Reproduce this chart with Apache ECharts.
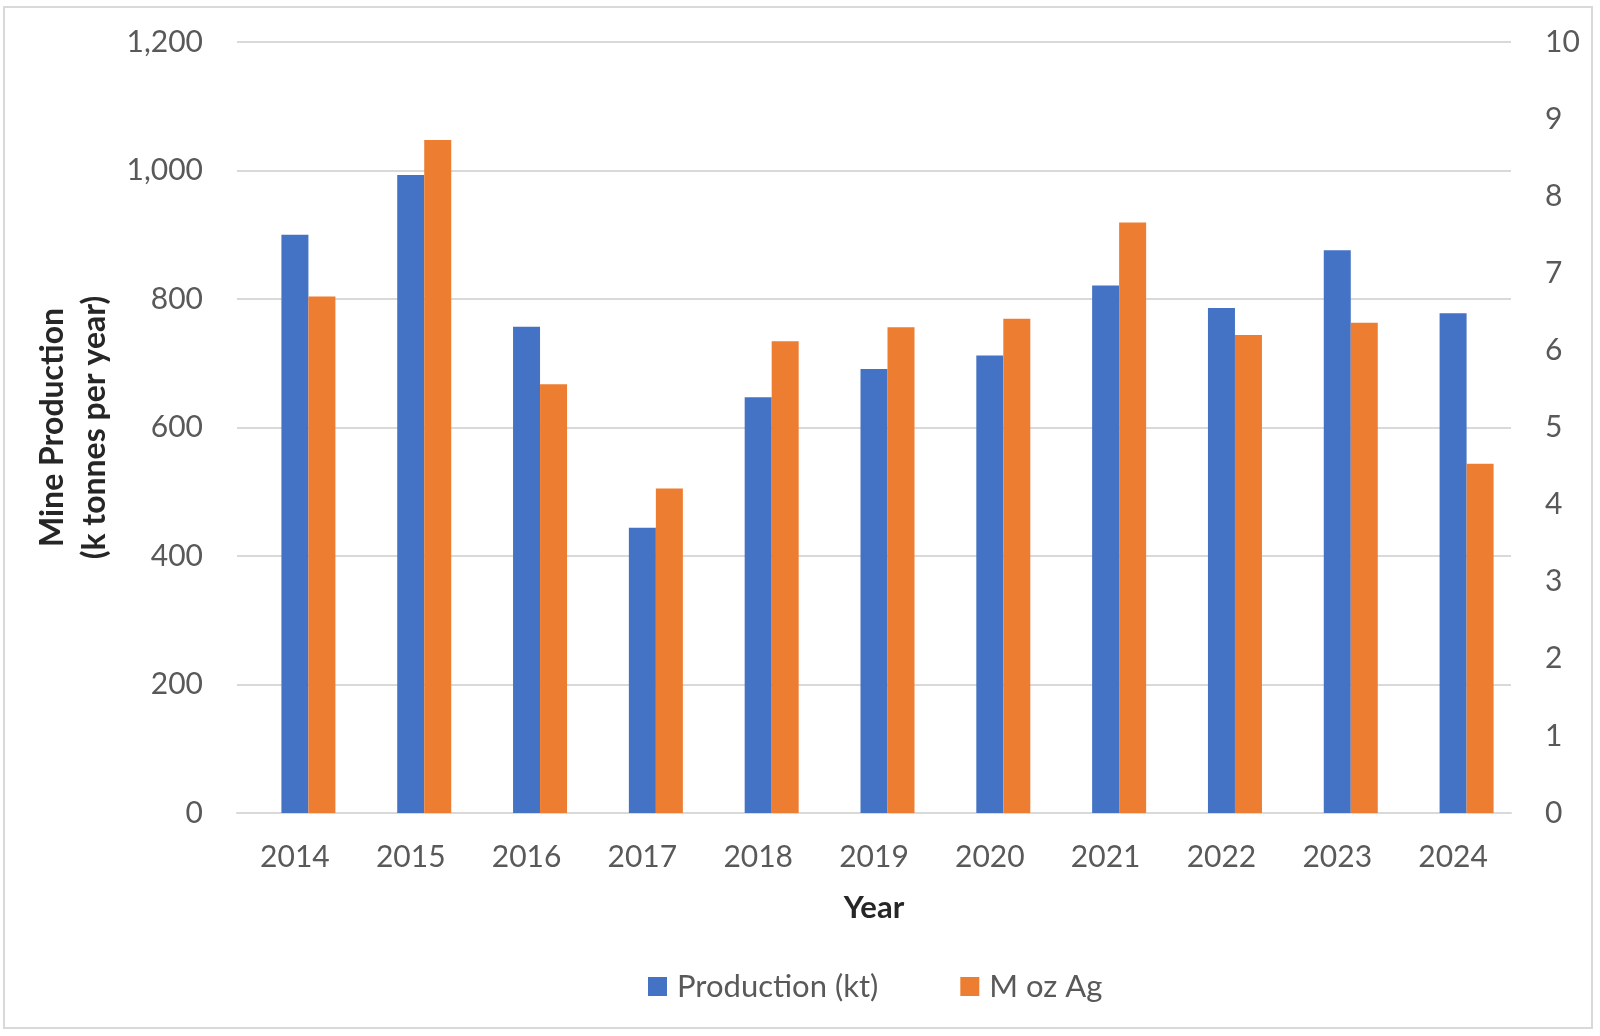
<!DOCTYPE html>
<html>
<head>
<meta charset="utf-8">
<script src="https://cdn.jsdelivr.net/npm/echarts@6/dist/echarts.min.js"></script>
<style>
html,body{margin:0;padding:0;background:#fff;}
#chart{width:1600px;height:1036px;}
</style>
</head>
<body>
<div id="chart"></div>
<script>
const years = ['2014','2015','2016','2017','2018','2019','2020','2021','2022','2023','2024'];
const productionKt = [900, 993, 757, 444, 647, 691, 712, 821, 786, 876, 778];
const mozAg = [6.70, 8.73, 5.56, 4.21, 6.12, 6.30, 6.41, 7.66, 6.20, 6.36, 4.53];
const leftTicks = {min: 0, max: 1200, interval: 200};
const rightTicks = {min: 0, max: 10, interval: 1};

const chart = echarts.init(document.getElementById('chart'));
const font = 'Lato';
const grey = '#595959';
chart.setOption({
  animation: false,
  backgroundColor: '#ffffff',
  textStyle: {fontFamily: font},
  graphic: [{
    type: 'rect',
    shape: {x: 4, y: 7, width: 1588, height: 1021},
    style: {fill: 'none', stroke: '#d9d9d9', lineWidth: 2},
    silent: true
  }],
  grid: {left: 237, right: 89, top: 42, bottom: 223},
  legend: {
    data: ['Production (kt)', 'M oz Ag'],
    left: 643, top: 966,
    itemWidth: 19, itemHeight: 19, itemGap: 82,
    icon: 'rect',
    textStyle: {fontFamily: font, fontSize: 31, color: grey, padding: [0,0,0,5]}
  },
  xAxis: {
    type: 'category',
    data: years,
    name: 'Year',
    nameLocation: 'middle',
    nameGap: 79,
    nameTextStyle: {fontFamily: font, fontSize: 31, fontWeight: 'bold', color: '#262626'},
    axisLine: {lineStyle: {color: '#d9d9d9', width: 2}},
    axisTick: {show: false},
    axisLabel: {fontFamily: font, fontSize: 30, color: grey, margin: 29}
  },
  yAxis: [{
    type: 'value',
    min: leftTicks.min, max: leftTicks.max, interval: leftTicks.interval,
    name: 'Mine Production\n(k tonnes per year)',
    nameLocation: 'middle',
    nameRotate: 90,
    nameGap: 110,
    nameTextStyle: {fontFamily: font, fontSize: 32, fontWeight: 'bold', color: '#262626', lineHeight: 42},
    axisLine: {show: false},
    axisTick: {show: false},
    splitLine: {lineStyle: {color: '#d9d9d9', width: 2}},
    axisLabel: {fontFamily: font, fontSize: 30, color: grey, margin: 34,
      formatter: v => v.toLocaleString('en-US')}
  }, {
    type: 'value',
    min: rightTicks.min, max: rightTicks.max, interval: rightTicks.interval,
    position: 'right',
    axisLine: {show: false},
    axisTick: {show: false},
    splitLine: {show: false},
    axisLabel: {fontFamily: font, fontSize: 30, color: grey, margin: 34}
  }],
  series: [{
    name: 'spacer',
    type: 'bar',
    yAxisIndex: 0,
    data: [],
    barWidth: 27,
    barGap: '0%'
  }, {
    name: 'Production (kt)',
    type: 'bar',
    yAxisIndex: 0,
    data: productionKt,
    barWidth: 27,
    barGap: '0%',
    itemStyle: {color: '#4472c4'}
  }, {
    name: 'M oz Ag',
    type: 'bar',
    yAxisIndex: 1,
    data: mozAg,
    barWidth: 27,
    barGap: '0%',
    itemStyle: {color: '#ed7d31'}
  }]
});
</script>
</body>
</html>
